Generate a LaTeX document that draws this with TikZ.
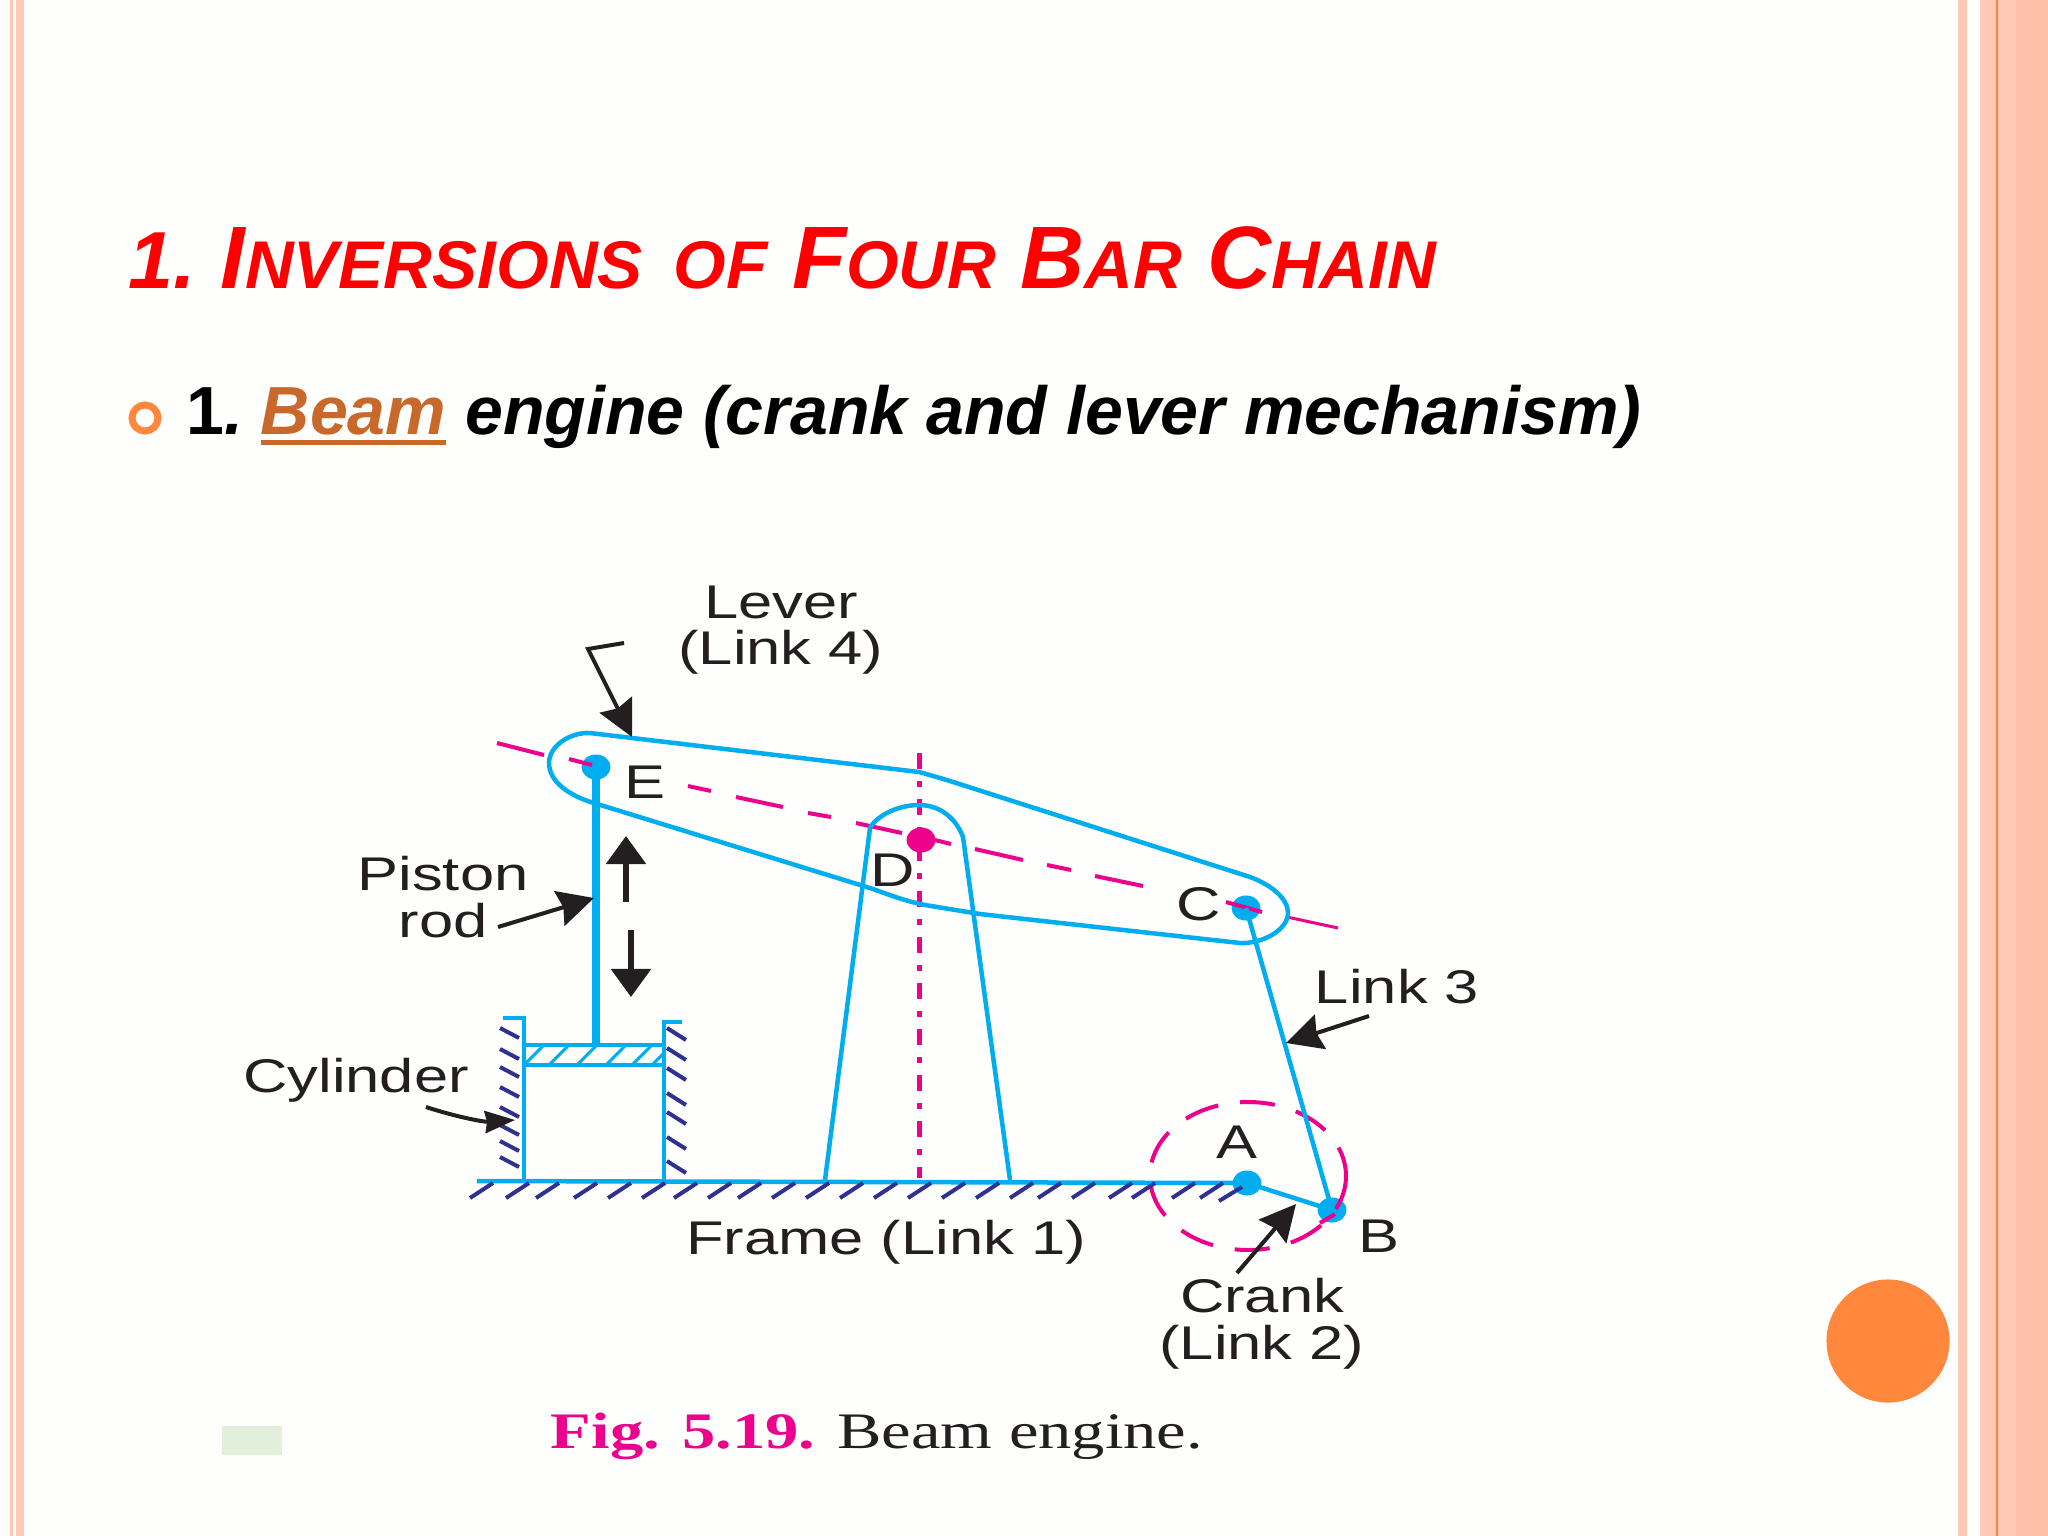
\documentclass[tikz,border=0pt]{standalone}
\usepackage{fontspec}
\usepackage{xcolor}
\usetikzlibrary{arrows.meta,positioning,shapes.geometric}
\setmainfont{Liberation Sans}
\newfontfamily\labelfont[FakeStretch=1.3]{Liberation Sans}
\newfontfamily\capfont[FakeStretch=1.3]{Liberation Serif}
\definecolor{linkblue}{RGB}{0,174,239}
\definecolor{centremag}{RGB}{236,0,140}
\definecolor{hatchnavy}{RGB}{46,49,146}
\definecolor{inkblack}{RGB}{35,31,32}
\definecolor{stripepale}{RGB}{255,201,181}
\definecolor{stripedeep}{RGB}{255,192,170}
\definecolor{stripeline}{RGB}{247,130,70}
\definecolor{bulletorange}{RGB}{255,136,60}
\definecolor{beamtext}{RGB}{200,105,43}
\definecolor{patchgreen}{RGB}{226,239,218}
\definecolor{pagewhite}{RGB}{254,254,252}
\tikzset{
  link/.style    ={draw=linkblue, line width=0.045cm},
  heavylink/.style={draw=linkblue, line width=0.075cm},
  pivot/.style   ={ellipse, fill=linkblue, inner sep=0pt, minimum width=0.29cm, minimum height=0.25cm},
  centreln/.style={draw=centremag, line width=0.04cm},
  hatchln/.style ={draw=hatchnavy, line width=0.04cm},
  callout/.style ={draw=inkblack, line width=0.04cm, -{Stealth[length=0.36cm,width=0.36cm,inset=0.04cm]}},
  motion/.style  ={draw=inkblack, line width=0.055cm, -{Stealth[length=0.28cm,width=0.39cm,inset=0pt]}},
  lbl/.style     ={font=\labelfont\fontsize{13.45}{13.3}\selectfont, text=inkblack, align=center, inner sep=0pt}
}
\newcommand{\smc}[1]{{\fontsize{19.2}{22}\selectfont #1}}
\newcommand{\ulined}[1]{\setbox0\hbox{#1}\rlap{\rule[-3.2pt]{\wd0}{1.6pt}}\box0}

\begin{document}
\begin{tikzpicture}[x=0.01cm,y=-0.01cm]
  \useasboundingbox (0,0) rectangle (2048,1536);
  \fill[pagewhite] (0,0) rectangle (2048,1536);
  % page stripes
  \fill[stripepale] (10,0) rectangle (13,1536);
  \fill[stripepale] (16,0) rectangle (24,1536);
  \fill[stripepale] (1958,0) rectangle (1967,1536);
  \fill[stripepale] (1980,0) rectangle (2016,1536);
  \fill[stripedeep] (2016,0) rectangle (2048,1536);
  \fill[stripeline] (1996,0) rectangle (1997.5,1536);
  % heading
  \node[anchor=base west, inner sep=0pt, text=red, font=\bfseries\itshape\fontsize{25.2}{30}\selectfont] (heading) at (128,288)
    {{\fontsize{23}{30}\selectfont 1.}\kern-2.4pt{} I\smc{NVERSIONS}\kern1.8pt{} \smc{OF} F\smc{OUR} B\smc{AR} C\smc{HAIN}};
  \node[circle, draw=bulletorange, line width=0.07cm, fill=none, inner sep=0pt, minimum size=0.26cm] (bullet) at (145,418) {};
  \node[anchor=base west, inner sep=0pt, font=\bfseries\fontsize{19.35}{22}\selectfont] (subhead) at (186,434)
    {1\textit{.\kern-2.2pt{} {\color{beamtext}\ulined{Beam}} engine (crank and lever mechanism)}};
  \fill[patchgreen] (222,1426) rectangle (282,1455);
  \node[circle, fill=bulletorange, inner sep=0pt, minimum size=1.23cm] (dot) at (1888,1341) {};
  % points of the mechanism
  \coordinate (gndl) at (477,1181);
  \coordinate (lineL) at (497,743);
  \node[pivot] (E) at (596,767) {};
  \node[pivot, fill=centremag] (D) at (921,840) {};
  \node[pivot] (C) at (1246,908) {};
  \node[pivot] (A) at (1247,1183) {};
  \node[pivot] (B) at (1332,1210) {};
  % crank circle
  \draw[centreln, dash pattern=on 0.35cm off 0.22cm] (1248,1176) ellipse [x radius=98, y radius=74];
  % centre lines
  \draw[draw=centremag, line width=0.05cm, dash pattern=on 0.16cm off 0.12cm on 0.06cm off 0.12cm] (919,753) -- (919,1178);
  \foreach \xa/\ya/\xb/\yb in {497/743/544/755, 569/759/592/765, 688/786/711/791, 736/797/783/807, 808/813/831/817, 856/823/902/833, 935/840/951/844, 975/849/1023/860, 1047/865/1071/870, 1095/876/1143/886, 1226/902/1262/912}
    \draw[centreln] (\xa,\ya) -- (\xb,\yb);
  \draw[centreln, line width=0.03cm] (1287,917) -- (1338,928);
  % lever
  \draw[link] (590,733) -- (919,772) .. controls (930,775) and (940,778) .. (950,781)
    -- (1250,877) .. controls (1272,885) and (1288,899) .. (1288,913)
    .. controls (1288,930) and (1262,944) .. (1240,943) -- (980,914) -- (925,905)
    .. controls (905,901) and (890,895) .. (870,888) -- (594,803)
    .. controls (570,796) and (549,782) .. (549,763) .. controls (549,746) and (570,732) .. (590,733) -- cycle;
  % pedestal
  \draw[link] (825,1180) -- (870,828) .. controls (878,814) and (900,805) .. (919,805)
    .. controls (938,805) and (955,816) .. (963,837) -- (1010,1180);
  % frame and cylinder
  \draw[link] (gndl) -- (A.center);
  \foreach \x in {493,529,559,597,631,665,697,731,761,795,829,863,897,931,965,999,1033,1061,1095,1132,1155,1195,1223}
    \draw[hatchln] (\x,1183) -- ++(-23,15);
  \draw[hatchln] (1242,1187) -- ++(-23,14);
  \foreach \y in {1038,1059,1077,1097,1117,1135,1151,1167}
    \draw[hatchln] (519,\y) -- ++(-19,-10);
  \foreach \y in {1028,1048,1068,1093,1112,1137,1161}
    \draw[hatchln] (667,\y) -- ++(19,12);
  \draw[link] (503,1018) -- (524,1018) -- (524,1181);
  \draw[link] (682,1022) -- (664,1022) -- (664,1181);
  \draw[link] (524,1045) -- (664,1045);
  \draw[link] (524,1065) -- (664,1065);
  \foreach \x in {524,549,577,606,632}
    \draw[draw=linkblue, line width=0.03cm] (\x,1065) -- ++(20,-20);
  \draw[draw=linkblue, line width=0.03cm] (652,1065) -- (664,1053);
  % rods
  \draw[heavylink] (E.center) -- (596,1045);
  \draw[link] (C.center) -- (B.center);
  \draw[link] (A.center) -- (B.center);
  \draw[centreln] (1320,1223) -- (1335,1214);
  % direction arrows
  \draw[motion] (626,902) -- (626,836);
  \draw[motion] (631,930) -- (631,997);
  % callouts
  \coordinate (leverbend) at (588,649);
  \draw[callout] (624,643) -- (leverbend) -- (632,737);
  \draw[callout] (498,927) -- (594,898);
  \draw[draw=inkblack, line width=0.04cm, -{Stealth[length=0.3cm,width=0.22cm,inset=0.02cm]}] (426,1107) .. controls (460,1118) and (485,1122) .. (515,1120);
  \draw[callout] (1369,1016) -- (1286,1043);
  \draw[callout] (1237,1273) -- (1296,1204);
  % labels
  \node[lbl] (lever) at (781,630) {Lever\\(Link 4)};
  \node[lbl] (pistonrod) at (443,897) {Piston\\rod};
  \node[lbl] (cylinder) at (356,1080) {Cylinder};
  \node[lbl] (lblE) at (645,782) {E};
  \node[lbl] (lblD) at (893,870) {D};
  \node[lbl] (lblC) at (1199,904) {C};
  \node[lbl] (lblA) at (1237,1142) {A};
  \node[lbl] (lblB) at (1379,1236) {B};
  \node[lbl] (link3) at (1397,987) {Link 3};
  \node[lbl] (frame) at (886,1242) {Frame (Link 1)};
  \node[lbl] (crank) at (1262,1324) {Crank\\(Link 2)};
  \node[anchor=base, inner sep=0pt, font=\capfont\fontsize{14.55}{16}\selectfont, text=inkblack] (caption) at (877,1448)
    {{\bfseries\color{centremag}Fig. 5.19.} Beam engine.};
\end{tikzpicture}
\end{document}
